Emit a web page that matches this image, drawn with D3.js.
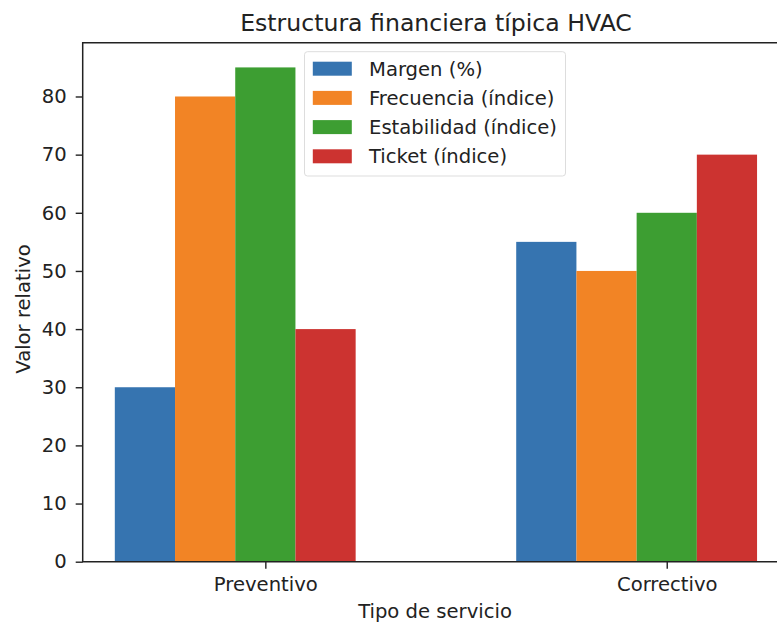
<!DOCTYPE html>
<html>
<head>
<meta charset="utf-8">
<script src="https://cdn.jsdelivr.net/npm/d3@7"></script>
<style>
  body { margin: 0; background: #fff; }
  svg { display: block; font-family: "DejaVu Sans", sans-serif; }
</style>
</head>
<body>
<div id="chart"></div>
<script>
// data
var categories = ["Preventivo", "Correctivo"];
var seriesNames = ["Margen (%)", "Frecuencia (índice)", "Estabilidad (índice)", "Ticket (índice)"];
var margen = [30, 55],
  frecuencia = [80, 50],
  estabilidad = [85, 60],
  ticket = [40, 70];
var seriesValues = [margen, frecuencia, estabilidad, ticket];
var colors = ["#3674b0", "#f28425", "#3d9e32", "#cc3330"];
var yTicks = [0, 10, 20, 30, 40, 50, 60, 70, 80];

var W = 777, H = 622;
var margin = {top: 42.7, left: 82.7, bottom: 60.3};
var barW = 0.15;
var baseFont = "19.6px", titleFont = "23.6px";

// x in "category units" like matplotlib: group i at x=i, bars offset (k-2)*barW
var xScale = d3.scaleLinear().domain([-0.455, 1.305]).range([margin.left, margin.left + 1.76 * 401.4]);
var yScale = d3.scaleLinear().domain([0, 89.25]).range([H - margin.bottom, margin.top]);

var svg = d3.select("#chart").append("svg")
  .attr("width", W)
  .attr("height", H);

// bars
seriesValues.forEach(function(vals, k) {
  svg.append("g").selectAll("rect")
    .data(vals)
    .enter().append("rect")
    .attr("x", function(d, i) { return xScale(i + (k - 2) * barW - barW / 2); })
    .attr("width", function() { return xScale(barW) - xScale(0); })
    .attr("y", function(d) { return yScale(d); })
    .attr("height", function(d) { return yScale(0) - yScale(d); })
    .attr("fill", colors[k]);
});

// y axis
var yAxis = svg.append("g")
  .attr("transform", "translate(" + margin.left + ",0)")
  .call(d3.axisLeft(yScale).tickValues(yTicks).tickSize(7).tickPadding(9));
// x axis
var xAxis = svg.append("g")
  .attr("transform", "translate(0," + yScale(0) + ")")
  .call(d3.axisBottom(xScale).tickValues([0, 1]).tickFormat(function(d) { return categories[d]; })
    .tickSize(7).tickPadding(8));

[yAxis, xAxis].forEach(function(ax) {
  ax.select(".domain").remove();
  ax.selectAll("line").attr("stroke", "#222").attr("stroke-width", 1.4);
  ax.selectAll("text").attr("fill", "#222").style("font-size", baseFont).style("font-family", "DejaVu Sans");
});

// spines
var x0 = margin.left, x1 = W + 20, y0 = yScale(0), y1 = yScale(89.25);
svg.append("path")
  .attr("d", "M" + x1 + "," + y1 + "H" + x0 + "V" + y0 + "H" + x1)
  .attr("fill", "none")
  .attr("stroke", "#222")
  .attr("stroke-width", 1.5);

// title and axis labels
svg.append("text")
  .attr("x", 436).attr("y", 31)
  .attr("text-anchor", "middle")
  .style("font-size", titleFont)
  .attr("fill", "#222")
  .text("Estructura financiera típica HVAC");

svg.append("text")
  .attr("x", 435).attr("y", 618)
  .attr("text-anchor", "middle")
  .style("font-size", baseFont)
  .attr("fill", "#222")
  .text("Tipo de servicio");

svg.append("text")
  .attr("transform", "translate(30,309) rotate(-90)")
  .attr("text-anchor", "middle")
  .style("font-size", baseFont)
  .attr("fill", "#222")
  .text("Valor relativo");

// legend
var legend = svg.append("g").attr("transform", "translate(304.5,51.7)");
legend.append("rect")
  .attr("width", 261).attr("height", 124.3)
  .attr("rx", 3)
  .attr("fill", "#fff")
  .attr("fill-opacity", 0.8)
  .attr("stroke", "#ddd");
seriesNames.forEach(function(name, k) {
  var row = legend.append("g").attr("transform", "translate(0," + (17 + k * 29.2) + ")");
  row.append("rect")
    .attr("x", 8.3).attr("y", -7)
    .attr("width", 39).attr("height", 14)
    .attr("fill", colors[k]);
  row.append("text")
    .attr("x", 64.5).attr("y", 7)
    .style("font-size", baseFont)
    .attr("fill", "#222")
    .text(name);
});
</script>
</body>
</html>
